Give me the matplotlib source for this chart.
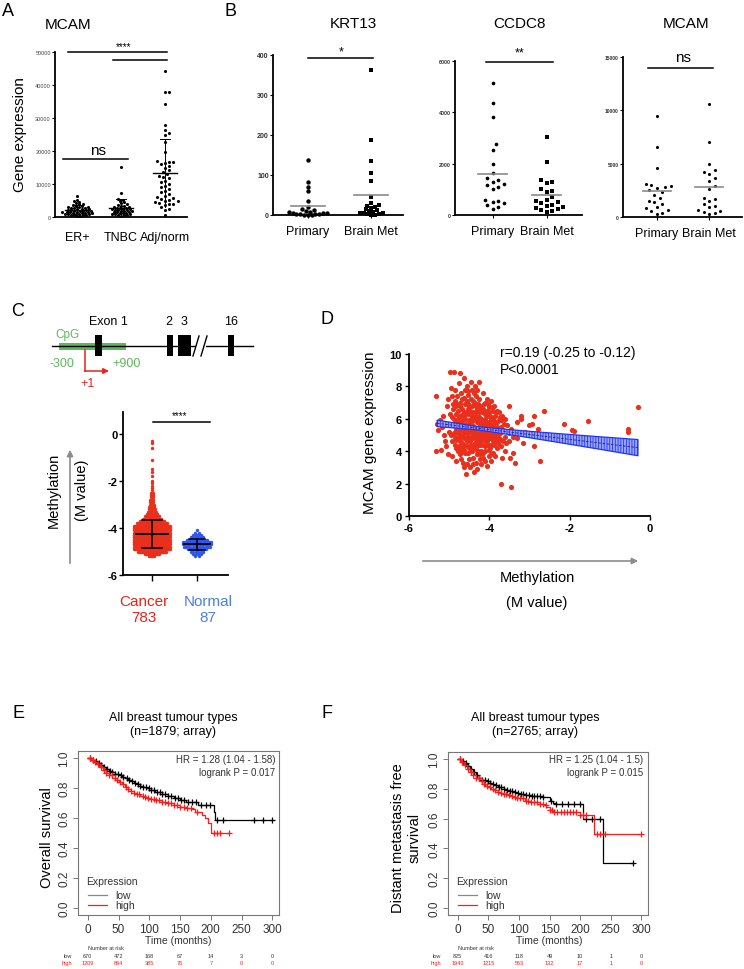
import numpy as np
import matplotlib
matplotlib.use("Agg")
import matplotlib.pyplot as plt
from matplotlib.patches import Rectangle, FancyArrowPatch

plt.rcParams['font.family'] = ['Liberation Sans', 'DejaVu Sans']
plt.rcParams['axes.unicode_minus'] = False
plt.rcParams['hatch.linewidth'] = 0.6

W, H = 744, 970

# ---------------- data ----------------
a_groups = ["ER+", "TNBC", "Adj/norm"]
a_er = [6400, 5200, 4900, 4600, 4300, 4000, 3800, 3600, 3400, 3300, 3100, 3000, 2900, 2800,
        2700, 2600, 2500, 2400, 2300, 2200, 2100, 2000, 1900, 1850, 1800, 1700, 1650, 1600,
        1500, 1450, 1400, 1300, 1250, 1200, 1100, 1050, 1000, 950, 900, 800, 750, 700, 600,
        500, 400, 300]
a_tnbc = [15200, 7200, 5600, 5200, 4900, 4500, 4200, 3900, 3600, 3400, 3200, 3000, 2900,
          2800, 2700, 2600, 2500, 2400, 2300, 2200, 2100, 2000, 1900, 1800, 1700, 1600, 1500,
          1400, 1300, 1200, 1100, 1000, 900, 800, 700, 600, 500, 400]
a_adj = [44200, 38000, 37800, 34300, 27800, 26300, 25500, 24900, 22600, 19700, 17000, 16800,
         16600, 16400, 16000, 15500, 15000, 14200, 13500, 13000, 12500, 12200, 11800, 11000,
         10500, 10000, 9500, 9000, 8500, 8000, 7500, 7000, 6500, 6000, 5800, 5500, 5200, 5000,
         4800, 4500, 4200, 4000, 3800, 3500, 3000, 2500, 2000, 500]

b_groups = ["Primary", "Brain Met"]
krt13_primary = [138, 82, 70, 60, 36, 20, 15, 12, 10, 8, 7, 6, 5, 4, 3, 3, 2, 2, 1, 1, 0]
krt13_brain = [362, 188, 134, 105, 86, 45, 30, 25, 22, 20, 18, 15, 12, 10, 8, 6, 5, 4, 3, 2, 1, 0]
ccdc8_primary = [5150, 4350, 3800, 2750, 2550, 2000, 1650, 1450, 1350, 1300, 1200, 1150, 1100,
                 1000, 600, 550, 500, 450, 400, 300, 250]
ccdc8_brain = [3050, 2050, 1350, 1300, 1250, 1000, 950, 900, 700, 600, 550, 500, 450, 400, 350,
               300, 280, 250, 200, 150, 100]
mcam_primary = [9500, 6600, 4600, 3100, 3000, 2900, 2800, 2700, 2500, 2300, 2100, 1800, 1500,
                1400, 1200, 900, 800, 700, 600, 400, 300]
mcam_brain = [10600, 7000, 5000, 4400, 4200, 4000, 3700, 3400, 2900, 2600, 1800, 1700, 1500,
              1200, 1000, 900, 700, 600, 500, 400, 300]

# panel C: methylation M values, binned (bin value, number of samples)
c_cancer_bins = [-5.2, -5.1, -5.0, -4.9, -4.8, -4.7, -4.6, -4.5, -4.4, -4.3, -4.2, -4.1, -4.0,
                 -3.9, -3.8, -3.7, -3.6, -3.5, -3.4, -3.3, -3.2, -3.1, -3.0, -2.9, -2.8, -2.7,
                 -2.6, -2.5, -2.4, -2.3, -2.2, -2.1, -2.0, -1.8, -1.6, -1.5, -1.1, -0.6, -0.4, -0.3]
c_cancer_counts = [5, 14, 28, 40, 50, 58, 65, 69, 67, 63, 55, 48, 42, 36, 30, 24, 18, 14, 10, 8,
                   6, 5, 4, 3, 3, 2, 2, 2, 1, 1, 1, 1, 1, 1, 1, 1, 1, 1, 1, 1]
c_normal_bins = [-5.2, -5.1, -5.0, -4.9, -4.8, -4.7, -4.6, -4.5, -4.4, -4.3, -4.2, -4.1]
c_normal_counts = [2, 4, 6, 9, 13, 16, 14, 10, 6, 4, 2, 1]

# gene schematic (exon positions in schematic units)
exon_left = [95, 167, 178, 228]
exon_right = [102, 173, 191, 234]

# panel D: methylation vs expression
d_points = [
    (-5.32, 7.4), (-5.3, 5.7), (-5.28, 5.3), (-5.33, 4.0), (-5.2, 4.1), (-5.22, 5.9), (-5.15, 6.2),
    (-5.12, 5.0), (-5.1, 4.6), (-5.18, 5.5), (-5.05, 6.8), (-5.08, 4.3), (-5.02, 3.8), (-5.0, 5.2),
    (-5.03, 7.2), (-4.97, 8.9), (-4.88, 8.9), (-4.95, 7.9), (-4.92, 7.4), (-4.9, 6.6), (-4.93, 6.1),
    (-4.9, 5.6), (-4.95, 5.0), (-4.85, 4.4), (-4.92, 3.7), (-4.85, 7.1), (-4.82, 6.3), (-4.8, 5.9),
    (-4.83, 5.3), (-4.8, 4.8), (-4.78, 4.0), (-4.82, 3.4), (-4.86, 7.8), (-4.88, 5.1), (-4.84, 6.8),
    (-4.72, 8.8), (-4.75, 8.2), (-4.7, 7.6), (-4.74, 7.0), (-4.68, 6.6), (-4.72, 6.2), (-4.7, 5.7),
    (-4.76, 5.4), (-4.68, 5.0), (-4.72, 4.6), (-4.7, 4.2), (-4.74, 3.8), (-4.66, 3.3), (-4.62, 8.5),
    (-4.64, 7.3), (-4.6, 6.9), (-4.63, 6.4), (-4.6, 6.0), (-4.65, 5.6), (-4.6, 5.2), (-4.62, 4.8),
    (-4.64, 4.4), (-4.6, 3.9), (-4.62, 3.0), (-4.58, 2.6), (-4.66, 5.9), (-4.7, 5.3), (-4.68, 4.5),
    (-4.55, 8.0), (-4.52, 7.5), (-4.55, 7.1), (-4.5, 6.7), (-4.54, 6.3), (-4.5, 5.9), (-4.56, 5.5),
    (-4.52, 5.1), (-4.5, 4.7), (-4.55, 4.3), (-4.52, 3.9), (-4.5, 3.5), (-4.47, 3.0), (-4.45, 8.3),
    (-4.42, 7.8), (-4.46, 7.2), (-4.44, 6.8), (-4.4, 6.4), (-4.46, 6.0), (-4.42, 5.6), (-4.44, 5.2),
    (-4.4, 4.8), (-4.45, 4.4), (-4.42, 4.0), (-4.4, 3.6), (-4.38, 2.7), (-4.48, 6.5), (-4.48, 5.4),
    (-4.5, 4.9), (-4.35, 8.0), (-4.32, 7.4), (-4.36, 7.0), (-4.3, 6.6), (-4.34, 6.2), (-4.3, 5.8),
    (-4.35, 5.4), (-4.32, 5.0), (-4.3, 4.6), (-4.35, 4.2), (-4.3, 3.8), (-4.33, 3.3), (-4.25, 8.3),
    (-4.25, 7.2), (-4.22, 6.8), (-4.26, 6.4), (-4.2, 6.0), (-4.24, 5.6), (-4.2, 5.2), (-4.25, 4.8),
    (-4.22, 4.4), (-4.2, 4.0), (-4.24, 3.5), (-4.28, 5.9), (-4.28, 4.9), (-4.3, 2.9), (-4.2, 3.2),
    (-4.15, 7.6), (-4.12, 7.0), (-4.16, 6.6), (-4.1, 6.3), (-4.14, 5.9), (-4.1, 5.5), (-4.16, 5.1),
    (-4.12, 4.7), (-4.1, 4.3), (-4.15, 3.9), (-4.12, 3.4), (-4.05, 7.2), (-4.02, 6.7), (-4.06, 6.2),
    (-4.0, 5.8), (-4.04, 5.4), (-4.0, 5.0), (-4.05, 4.6), (-4.02, 4.1), (-4.0, 3.7), (-4.06, 3.1),
    (-4.08, 5.7), (-4.08, 4.9), (-3.95, 7.1), (-3.92, 6.5), (-3.96, 6.0), (-3.9, 5.6), (-3.94, 5.2),
    (-3.9, 4.8), (-3.95, 4.4), (-3.92, 3.9), (-3.97, 3.4), (-3.85, 6.2), (-3.82, 5.8), (-3.86, 5.4),
    (-3.8, 5.0), (-3.84, 4.6), (-3.8, 4.2), (-3.86, 3.7), (-3.88, 6.8), (-3.75, 6.4), (-3.72, 5.9),
    (-3.7, 5.5), (-3.74, 5.1), (-3.7, 4.7), (-3.72, 4.3), (-3.68, 3.6), (-3.7, 1.95), (-3.65, 5.3),
    (-3.62, 4.9), (-3.6, 6.0), (-3.58, 4.5), (-3.6, 4.0), (-3.55, 5.6), (-3.5, 6.8), (-3.52, 5.1),
    (-3.5, 4.6), (-3.45, 1.8), (-3.48, 3.6), (-3.42, 3.9), (-3.45, 5.4), (-3.4, 4.9),
    (-3.3, 5.8), (-3.22, 6.2), (-3.2, 6.0), (-3.25, 5.1), (-3.3, 4.8), (-3.15, 4.5), (-3.1, 5.2),
    (-3.0, 5.6), (-2.95, 5.7), (-2.9, 6.2), (-2.88, 4.3), (-2.85, 5.0), (-2.78, 5.4), (-2.75, 3.4),
    (-2.65, 6.5), (-2.5, 5.0), (-2.15, 5.7), (-1.95, 5.3), (-1.9, 5.25), (-1.85, 4.9),
    (-1.55, 5.85), (-1.1, 4.7), (-0.55, 5.35), (-0.55, 5.2), (-0.3, 6.75), (-3.35, 3.3),
    (-4.78, 6.5), (-4.74, 5.8), (-4.66, 5.45), (-4.62, 6.2), (-4.58, 5.7), (-4.56, 4.9),
    (-4.54, 6.6), (-4.5, 5.3), (-4.48, 4.6), (-4.46, 5.8), (-4.44, 4.2), (-4.42, 6.2), (-4.4, 5.0),
    (-4.38, 5.5), (-4.36, 4.5), (-4.34, 6.4), (-4.32, 5.2), (-4.3, 4.1), (-4.28, 6.9), (-4.26, 5.5),
    (-4.24, 4.6), (-4.22, 5.8), (-4.2, 4.9), (-4.18, 6.4), (-4.18, 5.3), (-4.16, 4.4), (-4.14, 5.7),
    (-4.12, 6.0), (-4.1, 4.9), (-4.08, 5.3), (-4.06, 6.5), (-4.04, 4.4), (-4.02, 5.6), (-3.98, 6.2),
    (-3.98, 4.8), (-3.96, 5.4), (-3.92, 4.6), (-3.9, 6.0), (-3.88, 5.2), (-3.84, 4.9), (-3.82, 6.5),
    (-3.78, 5.4), (-3.76, 4.8), (-3.74, 6.1), (-4.86, 5.7), (-4.84, 4.7), (-4.8, 6.9), (-4.76, 4.3),
    (-4.98, 6.3), (-4.94, 4.6), (-5.06, 5.6), (-4.7, 3.5), (-4.56, 3.2), (-4.4, 3.2), (-4.15, 3.6),
    (-3.95, 3.8), (-4.52, 7.7), (-4.38, 7.6), (-4.6, 7.8), (-4.3, 7.8),
    (-4.9, 6.9), (-4.88, 6.0), (-4.86, 4.9), (-4.84, 5.5), (-4.82, 4.2), (-4.8, 7.4), (-4.78, 5.1),
    (-4.76, 6.1), (-4.74, 4.9), (-4.72, 6.8), (-4.7, 4.0), (-4.68, 7.2), (-4.66, 6.3), (-4.64, 5.1),
    (-4.62, 4.1), (-4.6, 5.5), (-4.58, 6.4), (-4.56, 4.6), (-4.54, 5.3), (-4.52, 6.9), (-4.5, 4.2),
    (-4.48, 5.7), (-4.46, 4.0), (-4.44, 6.1), (-4.42, 5.3), (-4.4, 7.1), (-4.38, 4.4), (-4.36, 5.9),
    (-4.34, 4.8), (-4.32, 6.8), (-4.3, 5.4), (-4.28, 4.4), (-4.26, 6.1), (-4.24, 5.1), (-4.22, 3.8),
    (-4.2, 6.6), (-4.18, 4.7), (-4.16, 5.5), (-4.14, 6.9), (-4.12, 4.0), (-4.1, 5.9), (-4.08, 4.6),
    (-4.06, 5.1), (-4.04, 6.9), (-4.02, 4.8), (-4.0, 6.4), (-3.98, 4.2), (-3.96, 5.7), (-3.94, 6.7),
    (-3.92, 5.0), (-3.88, 4.4), (-3.86, 5.8), (-3.84, 6.4), (-3.8, 5.5), (-3.78, 4.5), (-3.76, 5.9),
    (-3.72, 5.2), (-3.68, 6.2), (-3.66, 4.6), (-3.64, 5.7),
]
d_meth = [p[0] for p in d_points]
d_expr = [p[1] for p in d_points]
d_band_x = [-5.3, -4.3, -3.3, -2.3, -1.3, -0.3]
d_fit_y = [5.72, 5.42, 5.12, 4.82, 4.52, 4.22]
d_band_lo = [5.52, 5.32, 4.95, 4.55, 4.14, 3.72]
d_band_hi = [5.92, 5.52, 5.29, 5.09, 4.90, 4.72]

# panels E/F: Kaplan-Meier
km_ticks = [0, 50, 100, 150, 200, 250, 300]
e_low_t = [0, 5, 10, 15, 20, 25, 30, 35, 40, 45, 50, 55, 60, 65, 70, 75, 80, 85, 90, 95, 100,
           110, 120, 130, 140, 150, 160, 170, 180, 205, 207, 300]
e_low_s = [1.0, 0.99, 0.98, 0.97, 0.955, 0.94, 0.93, 0.915, 0.905, 0.895, 0.885, 0.875, 0.865,
           0.855, 0.845, 0.835, 0.825, 0.815, 0.81, 0.8, 0.79, 0.775, 0.76, 0.745, 0.735, 0.72,
           0.71, 0.705, 0.69, 0.64, 0.59, 0.59]
e_high_t = [0, 5, 10, 15, 20, 25, 30, 35, 40, 45, 50, 55, 60, 65, 70, 75, 80, 85, 90, 95, 100,
            110, 120, 130, 140, 150, 160, 170, 175, 185, 190, 195, 200, 230]
e_high_s = [1.0, 0.99, 0.975, 0.96, 0.94, 0.92, 0.90, 0.885, 0.87, 0.855, 0.84, 0.825, 0.81,
            0.795, 0.78, 0.77, 0.76, 0.75, 0.74, 0.735, 0.725, 0.72, 0.71, 0.70, 0.685, 0.675,
            0.67, 0.66, 0.64, 0.62, 0.60, 0.57, 0.50, 0.50]
e_low_cens = [4, 9, 13, 18, 22, 27, 31, 36, 40, 45, 49, 54, 58, 63, 67, 72, 76, 81, 85, 90, 94,
              99, 103, 108, 112, 117, 121, 126, 131, 136, 141, 146, 151, 157, 163, 169, 176, 184,
              192, 199, 210, 220, 270, 285, 299]
e_high_cens = [3, 8, 12, 17, 21, 26, 30, 35, 39, 44, 48, 53, 57, 62, 66, 71, 75, 80, 84, 89, 93,
               98, 102, 107, 111, 116, 120, 125, 130, 135, 140, 145, 150, 156, 162, 168, 178,
               205, 210, 215, 230]
e_risk_low = ["670", "472", "168", "67", "14", "3", "0"]
e_risk_high = ["1209", "894", "385", "76", "7", "0", "0"]

f_low_t = [0, 5, 10, 15, 20, 25, 30, 35, 40, 45, 50, 55, 60, 65, 70, 75, 80, 85, 90, 95, 100,
           110, 120, 130, 140, 150, 155, 160, 205, 235, 237, 287]
f_low_s = [1.0, 0.985, 0.97, 0.95, 0.93, 0.91, 0.89, 0.875, 0.86, 0.85, 0.84, 0.83, 0.825,
           0.815, 0.81, 0.80, 0.795, 0.785, 0.78, 0.77, 0.765, 0.76, 0.755, 0.75, 0.745, 0.72,
           0.705, 0.70, 0.60, 0.60, 0.30, 0.30]
f_high_t = [0, 5, 10, 15, 20, 25, 30, 35, 40, 45, 50, 55, 60, 65, 70, 75, 80, 85, 90, 95, 100,
            110, 120, 130, 140, 145, 150, 155, 195, 200, 222, 300]
f_high_s = [1.0, 0.98, 0.96, 0.935, 0.91, 0.89, 0.87, 0.85, 0.835, 0.82, 0.81, 0.80, 0.79,
            0.78, 0.775, 0.765, 0.76, 0.75, 0.745, 0.74, 0.735, 0.72, 0.71, 0.70, 0.69, 0.675,
            0.66, 0.645, 0.645, 0.625, 0.50, 0.50]
f_low_cens = [4, 8, 13, 17, 22, 26, 31, 35, 40, 44, 49, 53, 58, 62, 67, 71, 76, 80, 85, 89, 94,
              98, 103, 107, 112, 116, 121, 125, 130, 135, 140, 152, 160, 170, 180, 190, 200, 210,
              220, 232, 287]
f_high_cens = [3, 7, 12, 16, 21, 25, 30, 34, 39, 43, 48, 52, 57, 61, 66, 70, 75, 79, 84, 88, 93,
               97, 102, 106, 111, 115, 120, 124, 129, 134, 139, 144, 150, 154, 158, 163, 168,
               173, 178, 183, 188, 193, 200, 205, 210, 228, 232, 240, 300]
f_risk_low = ["825", "416", "118", "49", "10", "1", "0"]
f_risk_high = ["1940", "1215", "563", "132", "17", "1", "0"]

RED = '#e8301c'
BLUE = '#2f55f0'
GREEN = '#5cb85c'
KMRED = '#ff1a1a'
GREY_TXT = '#333333'

fig = plt.figure(figsize=(W / 100, H / 100), dpi=100)


def add_ax(l, t, r, b):
    return fig.add_axes([l / W, 1 - b / H, (r - l) / W, (b - t) / H])


def ftext(x, y, s, **kw):
    kw.setdefault('ha', 'center')
    kw.setdefault('va', 'center')
    return fig.text(x / W, 1 - y / H, s, **kw)


def beeswarm(ax, xc, vals, d, overlap=0.75):
    vals = np.asarray(vals, float)
    pts = ax.transData.transform(np.column_stack([np.full(len(vals), xc), vals]))
    px0, py = pts[:, 0], pts[:, 1]
    out = np.zeros(len(vals))
    done_x, done_y = [], []
    for i in np.argsort(py):
        k = 0
        found = None
        while found is None:
            cands = [0.0] if k == 0 else [k * d * 0.5, -k * d * 0.5]
            for off in cands:
                cx = px0[i] + off
                if not done_x:
                    found = cx
                    break
                dx = np.array(done_x) - cx
                dy = np.array(done_y) - py[i]
                if np.min(dx * dx + dy * dy) >= d * d * overlap:
                    found = cx
                    break
            k += 1
        out[i] = found
        done_x.append(found)
        done_y.append(py[i])
    return ax.transData.inverted().transform(np.column_stack([out, py]))[:, 0]


def prism_axes(ax):
    for s in ['top', 'right']:
        ax.spines[s].set_visible(False)
    for s in ['left', 'bottom']:
        ax.spines[s].set_linewidth(1.3)
    ax.patch.set_alpha(0)


# ---------------- panel A ----------------
ftext(8, 12, "A", fontsize=13)
ftext(68, 25, "MCAM", fontsize=11)
ftext(20, 135, "Gene expression", fontsize=11, rotation=90)
axA = add_ax(55, 53, 187, 218)
axA.set_xlim(-0.5, 2.5)
axA.set_ylim(0, 50000)
prism_axes(axA)
axA.set_yticks(range(0, 50001, 10000))
axA.set_yticklabels([str(v) for v in range(0, 50001, 10000)], fontsize=4, color='#444')
axA.tick_params(axis='y', length=2, width=0.8, pad=1)
axA.set_xticks([0, 1, 2])
axA.set_xticklabels(a_groups, fontsize=9)
axA.tick_params(axis='x', length=0, pad=10)
for i, (vals, dsz, ov) in enumerate([(a_er, 3.0, 0.6), (a_tnbc, 3.0, 0.6), (a_adj, 4.2, 1.0)]):
    xs = beeswarm(axA, i, vals, dsz, ov)
    axA.scatter(xs, vals, s=5, color='k', lw=0, clip_on=False)
    m, sd = np.mean(vals), np.std(vals)
    axA.plot([i - 0.28, i + 0.28], [m, m], color='k', lw=1)
    axA.plot([i, i], [m - sd, m + sd], color='k', lw=0.7)
    axA.plot([i - 0.12, i + 0.12], [m + sd, m + sd], color='k', lw=0.7)
axA.plot([-0.2, 2.05], [50000, 50000], color='k', lw=1.1, clip_on=False)
axA.plot([0.82, 2.05], [47700, 47700], color='k', lw=1.1, clip_on=False)
axA.text(1.05, 50300, "****", ha='center', va='bottom', fontsize=7, clip_on=False)
axA.plot([-0.32, 1.16], [17600, 17600], color='k', lw=1.1)
axA.text(0.48, 18100, "ns", ha='center', va='bottom', fontsize=11)

# ---------------- panel B ----------------
ftext(230, 12, "B", fontsize=13)
b_specs = [
    ("KRT13", 353, (273, 56, 403, 216), (-0.55, 1.5), 400, [0, 100, 200, 300, 400], 5,
     krt13_primary, krt13_brain, ('o', 's'), 3.8, 10, 0.75, (0.0, 1.03, 392, "*", 0.53, 395, 9)),
    ("CCDC8", 520, (455, 62, 582, 216), (-0.7, 1.65), 6000, [0, 2000, 4000, 6000], 3.8,
     ccdc8_primary, ccdc8_brain, ('o', 's'), 5.5, 7, 1.0, (-0.13, 1.11, 5960, "**", 0.5, 6100, 9)),
    ("MCAM", 686, (623, 58, 742, 218), (-0.65, 1.63), 15000, [0, 5000, 10000, 15000], 3.5,
     mcam_primary, mcam_brain, ('o', 'o'), 5.5, 5, 1.0, (-0.17, 1.08, 13970, "ns", 0.5, 14300, 11)),
]
for (title, tx, box, xl, ymax, yt, tfs, prim, brain, mk, dsz, ms, ov, sg) in b_specs:
    ftext(tx, 24, title, fontsize=11)
    ax = add_ax(*box)
    ax.set_xlim(*xl)
    ax.set_ylim(0, ymax)
    prism_axes(ax)
    ax.set_yticks(yt)
    ax.set_yticklabels([str(v) for v in yt], fontsize=tfs, fontweight='bold', color='#333')
    ax.tick_params(axis='y', length=2, width=0.8, pad=1)
    ax.set_xticks([0, 1])
    ax.set_xticklabels(b_groups, fontsize=9)
    ax.tick_params(axis='x', length=2, width=0.8, pad=5)
    for i, (vals, m_) in enumerate(zip([prim, brain], mk)):
        xs = beeswarm(ax, i, vals, dsz, ov)
        ax.scatter(xs, vals, s=ms, marker=m_, color='k', lw=0, clip_on=False, zorder=3)
        mean = np.mean(vals)
        ax.plot([i - 0.27, i + 0.27], [mean, mean], color='#8a8a8a', lw=1.2, zorder=4)
    x0, x1, y, txt, stx, sty, sfs = sg
    ax.plot([x0, x1], [y, y], color='k', lw=1.1, clip_on=False)
    ax.text(stx, sty, txt, ha='center', va='bottom', fontsize=sfs, clip_on=False)

# ---------------- panel C ----------------
ftext(18, 312, "C", fontsize=13)
axG = add_ax(40, 315, 262, 395)
axG.set_xlim(40, 262)
axG.set_ylim(395, 315)
axG.axis('off')
axG.plot([52, 253], [347, 347], color='k', lw=1)
axG.add_patch(Rectangle((59, 344), 67, 7, color=GREEN, lw=0))
for l, r in zip(exon_left, exon_right):
    axG.add_patch(Rectangle((l, 336), r - l, 21, color='k', lw=0))
axG.add_patch(Rectangle((196, 344), 10, 6, color='white', lw=0, zorder=3))
axG.plot([193, 199], [357, 337], color='k', lw=1, zorder=4)
axG.plot([201, 207], [357, 337], color='k', lw=1, zorder=4)
axG.plot([85, 85], [351, 372], color='#e8231b', lw=1.1)
axG.annotate('', xy=(109, 372), xytext=(84.5, 372),
             arrowprops=dict(arrowstyle='-|>', color='#e8231b', lw=1.1, mutation_scale=8,
                             shrinkA=0, shrinkB=0))
ftext(108, 322, "Exon 1", fontsize=9)
ftext(169, 322, "2", fontsize=9)
ftext(184, 322, "3", fontsize=9)
ftext(231, 322, "16", fontsize=9)
ftext(68, 335, "CpG", fontsize=8.5, color=GREEN)
ftext(62, 364, "-300", fontsize=9, color=GREEN)
ftext(127, 364, "+900", fontsize=9, color=GREEN)
ftext(88, 384, "+1", fontsize=9, color='#e8231b')

axC = add_ax(123, 413, 228, 576)
axC.set_xlim(-0.64, 1.69)
axC.set_ylim(-6, 0.94)
prism_axes(axC)
axC.set_yticks([0, -2, -4, -6])
axC.set_yticklabels(['0', '-2', '-4', '-6'], fontsize=8, fontweight='bold')
axC.tick_params(axis='y', length=3, width=1, pad=1)
axC.set_xticks([0, 1])
axC.set_xticklabels([])
axC.tick_params(axis='x', length=4, width=1)
ppu = axC.transData.transform([(1, 0)])[0][0] - axC.transData.transform([(0, 0)])[0][0]
for i, (bins, counts, col, k, cap, mw, cw) in enumerate([
        (c_cancer_bins, c_cancer_counts, RED, 0.5, 18, 16, 10),
        (c_normal_bins, c_normal_counts, BLUE, 1.0, 14, 13, 8)]):
    xs, ys = [], []
    for v, n in zip(bins, counts):
        hw = min(n * k, cap) if n > 1 else 0
        xs.extend(i + np.linspace(-hw, hw, n) / ppu)
        ys.extend([v] * n)
    axC.scatter(xs, ys, s=6, color=col, lw=0, zorder=2)
    allv = np.repeat(bins, counts)
    m, sd = allv.mean(), allv.std()
    axC.plot([i - mw / ppu, i + mw / ppu], [m, m], color='k', lw=1.3, zorder=3)
    axC.plot([i, i], [m - sd, m + sd], color='k', lw=1.1, zorder=3)
    for yy in (m - sd, m + sd):
        axC.plot([i - cw / ppu, i + cw / ppu], [yy, yy], color='k', lw=1.1, zorder=3)
axC.plot([0.02, 1.29], [0.51, 0.51], color='k', lw=1.1, clip_on=False)
axC.text(0.62, 0.6, "****", ha='center', va='bottom', fontsize=7, clip_on=False)
ftext(144, 602, "Cancer", fontsize=11, color='#e8231b')
ftext(208, 602, "Normal", fontsize=11, color='#4a7fe0')
ftext(144, 618, "783", fontsize=11, color='#e8231b')
ftext(208, 618, "87", fontsize=11, color='#4a7fe0')
ftext(54, 490, "Methylation", fontsize=10.5, rotation=90)
ftext(82, 490, "(M value)", fontsize=10.5, rotation=90)
fig.add_artist(FancyArrowPatch(
    (70 / W, 1 - 567 / H), (70 / W, 1 - 448 / H), transform=fig.transFigure,
    arrowstyle='-|>', mutation_scale=9, color='#8c8c8c', lw=1.2))

# ---------------- panel D ----------------
ftext(327, 320, "D", fontsize=13)
axD = add_ax(409, 355, 650, 517)
axD.set_xlim(-6, 0)
axD.set_ylim(0, 10)
prism_axes(axD)
axD.set_xticks([-6, -4, -2, 0])
axD.set_xticklabels(['-6', '-4', '-2', '0'], fontsize=8, fontweight='bold')
axD.set_yticks([0, 2, 4, 6, 8, 10])
axD.set_yticklabels(['0', '2', '4', '6', '8', '10'], fontsize=8, fontweight='bold')
axD.tick_params(length=3, width=1, pad=2)
axD.scatter(d_meth, d_expr, s=14, color=RED, lw=0, zorder=2)
axD.fill_between(d_band_x, d_band_lo, d_band_hi, facecolor='#9aa5ff', edgecolor='#2233ee',
                 hatch='||||||', lw=0.9, zorder=3)
axD.plot(d_band_x, d_fit_y, color='#202070', lw=0.6, ls=(0, (3, 2)), zorder=4)
ftext(500, 353, "r=0.19 (-0.25 to -0.12)", fontsize=10, ha='left')
ftext(500, 370, "P<0.0001", fontsize=10, ha='left')
ftext(370, 433, "MCAM gene expression", fontsize=11, rotation=90)
fig.add_artist(FancyArrowPatch(
    (420 / W, 1 - 562 / H), (641 / W, 1 - 562 / H), transform=fig.transFigure,
    arrowstyle='-|>', mutation_scale=9, color='#8c8c8c', lw=1.2))
ftext(537, 578, "Methylation", fontsize=10.5)
ftext(537, 603, "(M value)", fontsize=10.5)


# ---------------- panels E / F ----------------
def km_panel(letter, lx, box, title_x, n_txt, ylab, ylab_x, hr, hr_x, leg_x, lab_x,
             low_t, low_s, high_t, high_s, low_c, high_c, r_low, r_high, xlab_x, nar_x):
    ftext(lx, 713, letter, fontsize=13)
    ftext(title_x, 718, "All breast tumour types", fontsize=9)
    ftext(title_x, 732, n_txt, fontsize=9)
    ax = add_ax(*box)
    ax.set_xlim(-16, 311)
    ax.set_ylim(-0.047, 1.047)
    for s in ax.spines.values():
        s.set_color('#777777')
        s.set_linewidth(0.8)
    ax.set_xticks(km_ticks)
    ax.set_xticklabels([str(t) for t in km_ticks], fontsize=8.5, color=GREY_TXT)
    ax.set_yticks([0, 0.2, 0.4, 0.6, 0.8, 1.0])
    ax.set_yticklabels(['0.0', '0.2', '0.4', '0.6', '0.8', '1.0'], fontsize=8.5,
                       color=GREY_TXT, rotation=90, va='center')
    ax.tick_params(length=3.5, width=0.7, color='#777777', pad=2)
    for t, s_, c, col in [(low_t, low_s, low_c, 'k'), (high_t, high_s, high_c, KMRED)]:
        ax.step(t, s_, where='post', color=col, lw=0.9)
        idx = np.searchsorted(t, c, side='right') - 1
        ax.plot(c, np.asarray(s_)[idx], ls='none', marker='+', ms=4.5, mew=0.9, color=col)
    ftext(hr_x, 760, hr[0], fontsize=7, ha='right', color=GREY_TXT)
    ftext(hr_x, 773, hr[1], fontsize=7, ha='right', color=GREY_TXT)
    ftext(leg_x, 882, "Expression", fontsize=7.5, ha='left', color=GREY_TXT)
    fig.add_artist(plt.Line2D([(leg_x + 2) / W, (leg_x + 21) / W], [1 - 896 / H] * 2,
                              color='#888888', lw=0.9))
    fig.add_artist(plt.Line2D([(leg_x + 2) / W, (leg_x + 21) / W], [1 - 906 / H] * 2,
                              color=KMRED, lw=0.9))
    ftext(leg_x + 29, 896, "low", fontsize=7.5, ha='left', color=GREY_TXT)
    ftext(leg_x + 29, 906, "high", fontsize=7.5, ha='left', color=GREY_TXT)
    ftext(ylab_x, 838, ylab, fontsize=10.5, rotation=90, multialignment='center')
    ftext(xlab_x, 941, "Time (months)", fontsize=7.5, color=GREY_TXT)
    ftext(nar_x, 949, "Number at risk", fontsize=4, color=GREY_TXT)
    x_px = ax.transData.transform(np.column_stack([km_ticks, np.zeros(len(km_ticks))]))[:, 0]
    ftext(lab_x, 957, "low", fontsize=4, ha='right', color=GREY_TXT)
    ftext(lab_x, 964, "high", fontsize=4, ha='right', color=KMRED)
    for xp, a, b in zip(x_px, r_low, r_high):
        fig.text(xp / W, 1 - 957 / H, a, fontsize=4, ha='center', va='center', color=GREY_TXT)
        fig.text(xp / W, 1 - 964 / H, b, fontsize=4, ha='center', va='center', color=KMRED)


km_panel("E", 18, (78, 752, 279, 916), 173, "(n=1879; array)", "Overall survival", 47,
         ("HR = 1.28 (1.04 - 1.58)", "logrank P = 0.017"), 275, 86, 72,
         e_low_t, e_low_s, e_high_t, e_high_s, e_low_cens, e_high_cens,
         e_risk_low, e_risk_high, 178, 106)
km_panel("F", 327, (448, 753, 648, 916), 535, "(n=2765; array)",
         "Distant metastasis free\nsurvival", 406,
         ("HR = 1.25 (1.04 - 1.5)", "logrank P = 0.015"), 643, 456, 441,
         f_low_t, f_low_s, f_high_t, f_high_s, f_low_cens, f_high_cens,
         f_risk_low, f_risk_high, 549, 476)

fig.savefig("out.png", dpi=100)
